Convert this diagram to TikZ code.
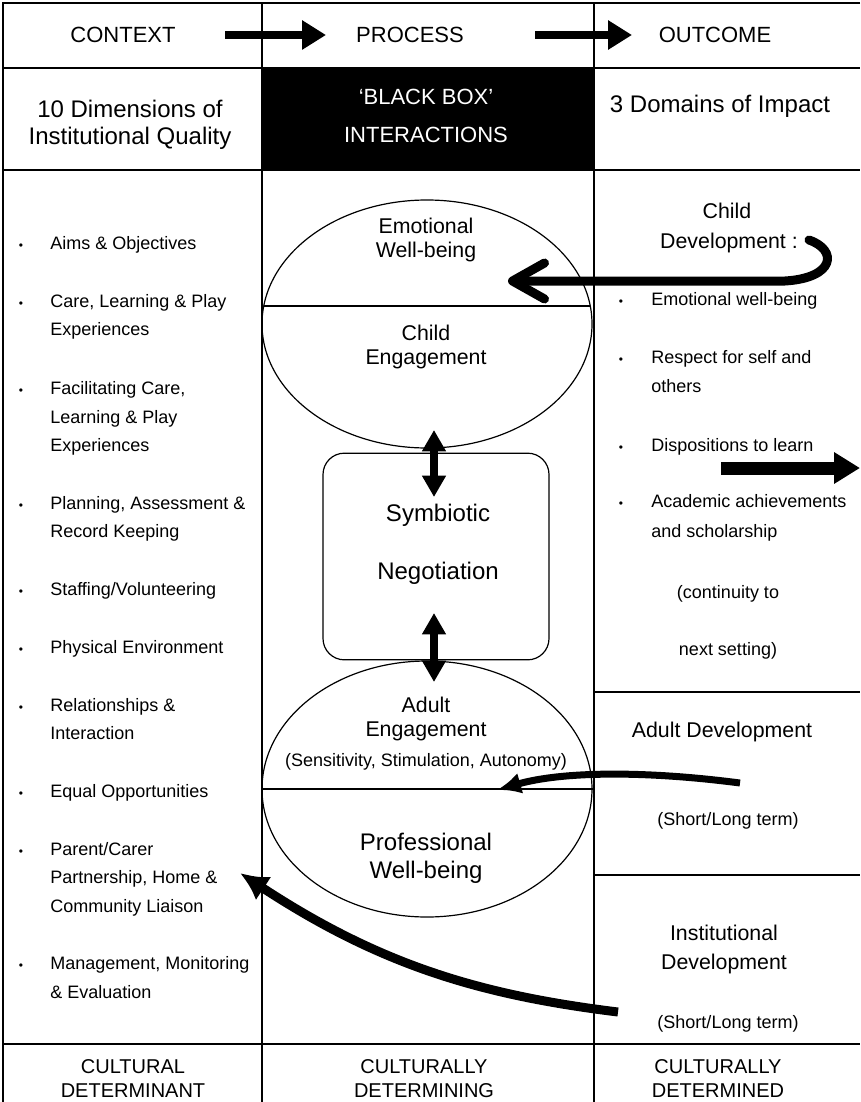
\documentclass[tikz,border=0pt]{standalone}
\usepackage{fontspec}
\setmainfont{Liberation Sans}
\usetikzlibrary{arrows.meta,shapes.geometric}
\begin{document}
\begin{tikzpicture}[x=0.75pt,y=-0.75pt,
 frameline/.style={line width=1.6pt},
 shapeline/.style={line width=0.9pt},
 hdr/.style={font=\fontsize{16.5}{20}\selectfont,anchor=base,inner sep=0pt},
 rowtwo/.style={font=\fontsize{18}{22}\selectfont,anchor=base,inner sep=0pt},
 lbl/.style={font=\fontsize{16}{20}\selectfont,anchor=base,inner sep=0pt},
 lblbig/.style={font=\fontsize{18}{22}\selectfont,anchor=base,inner sep=0pt},
 itm/.style={font=\fontsize{13.5}{16}\selectfont,anchor=base west,inner sep=0pt},
 note/.style={font=\fontsize{13.5}{16}\selectfont,anchor=base,inner sep=0pt},
 bul/.style={font=\fontsize{9}{10}\selectfont,anchor=base,inner sep=0pt},
 foot/.style={font=\fontsize{15}{18}\selectfont,anchor=base,inner sep=0pt},
 headarrow/.style={line width=6pt,-{Triangle[length=18pt,width=21pt]}},
 duoarrow/.style={line width=6pt,{Triangle[length=16pt,width=17pt]}-{Triangle[length=16pt,width=17pt]}},
 outarrow/.style={line width=9.75pt,-{Triangle[length=19.5pt,width=22.5pt]}},
 hookarrow/.style={line width=6.75pt,line cap=round,-{Straight Barb[length=24pt,width=27pt,round]}},
 curvearrow/.style={line width=5.25pt,-{Latex[length=18pt,width=16pt]}},
 longarrow/.style={line width=6.75pt,-{Latex[length=21pt,width=21pt]}},
]
\useasboundingbox (0,0) rectangle (860,1102);
\fill[white] (0,0) rectangle (860,1102);

% black box
\fill[black] (262,68) rectangle (594,170);

% frame
\draw[frameline] (860,3) -- (3,3) -- (3,1102);
\draw[frameline] (262,3) -- (262,1102);
\draw[frameline] (594,3) -- (594,1102);
\draw[frameline] (3,68) -- (860,68);
\draw[frameline] (3,170) -- (860,170);
\draw[frameline] (594,692) -- (860,692);
\draw[frameline] (594,875) -- (860,875);
\draw[frameline] (3,1044) -- (860,1044);

% header
\node[hdr] (ctx) at (123,43) {CONTEXT};
\node[hdr] (proc) at (410,43) {PROCESS};
\node[hdr] (outc) at (715,43) {OUTCOME};
\coordinate (h1s) at (225,35); \coordinate (h1e) at (326,35);
\coordinate (h2s) at (535,35); \coordinate (h2e) at (632,35);
\draw[headarrow] (h1s) -- (h1e);
\draw[headarrow] (h2s) -- (h2e);

% row two
\node[rowtwo] (dimA) at (130,118) {10 Dimensions of};
\node[rowtwo] (dimB) at (130,145) {Institutional Quality};
\node[hdr,text=white] (bbA) at (426,105) {‘BLACK BOX’};
\node[hdr,text=white] (bbB) at (426,143) {INTERACTIONS};
\node[rowtwo] (dom) at (720,113) {3 Domains of Impact};

% left list
\node[bul] at (21,249) {•}; \node[itm] (l1) at (50,249) {Aims \& Objectives};
\node[bul] at (21,307) {•}; \node[itm] (l2a) at (50,307) {Care, Learning \& Play};
\node[itm] (l2b) at (50,335) {Experiences};
\node[bul] at (21,394) {•}; \node[itm] (l3a) at (50,394) {Facilitating Care,};
\node[itm] (l3b) at (50,423) {Learning \& Play};
\node[itm] (l3c) at (50,451) {Experiences};
\node[bul] at (21,509) {•}; \node[itm] (l4a) at (50,509) {Planning, Assessment \&};
\node[itm] (l4b) at (50,537) {Record Keeping};
\node[bul] at (21,595) {•}; \node[itm] (l5) at (50,595) {Staffing/Volunteering};
\node[bul] at (21,653) {•}; \node[itm] (l6) at (50,653) {Physical Environment};
\node[bul] at (21,711) {•}; \node[itm] (l7a) at (50,711) {Relationships \&};
\node[itm] (l7b) at (50,739) {Interaction};
\node[bul] at (21,797) {•}; \node[itm] (l8) at (50,797) {Equal Opportunities};
\node[bul] at (21,855) {•}; \node[itm] (l9a) at (50,855) {Parent/Carer};
\node[itm] (l9b) at (50,883) {Partnership, Home \&};
\node[itm] (l9c) at (50,912) {Community Liaison};
\node[bul] at (21,969) {•}; \node[itm] (l10a) at (50,969) {Management, Monitoring};
\node[itm] (l10b) at (50,998) {\& Evaluation};

% middle column shapes
\node[ellipse,draw,shapeline,minimum width=247.5pt,minimum height=186pt,inner sep=0pt] (ue) at (427,324) {};
\draw[line width=1.2pt] (264,306) -- (590,306);
\node[lbl] (ewA) at (426,233) {Emotional};
\node[lbl] (ewB) at (426,257) {Well-being};
\node[lbl] (ceA) at (426,340) {Child};
\node[lbl] (ceB) at (426,364) {Engagement};

\node[draw,shapeline,rounded corners=16pt,minimum width=169.5pt,minimum height=155pt,inner sep=0pt] (sym) at (436,556.5) {};
\node[lblbig] (symA) at (438,521) {Symbiotic};
\node[lblbig] (symB) at (438,579) {Negotiation};

\node[ellipse,draw,shapeline,minimum width=247.5pt,minimum height=192pt,inner sep=0pt] (le) at (427,789) {};
\draw[line width=1.2pt] (le.west) -- (le.east);
\node[lbl] (aeA) at (426,712) {Adult};
\node[lbl] (aeB) at (426,736) {Engagement};
\node[note] (aeC) at (426,766) {(Sensitivity, Stimulation, Autonomy)};
\node[lblbig] (pwA) at (426,850) {Professional};
\node[lblbig] (pwB) at (426,878) {Well-being};

\coordinate (d1a) at (434,430); \coordinate (d1b) at (434,497);
\coordinate (d2a) at (434,613); \coordinate (d2b) at (434,682);
\draw[duoarrow] (d1a) -- (d1b);
\draw[duoarrow] (d2a) -- (d2b);

% right column
\node[lbl] (cdA) at (727,218) {Child};
\node[lbl] (cdB) at (729,248) {Development :};
\node[bul] at (621,305) {•}; \node[itm] (r1) at (651,305) {Emotional well-being};
\node[bul] at (621,363) {•}; \node[itm] (r2a) at (651,363) {Respect for self and};
\node[itm] (r2b) at (651,392) {others};
\node[bul] at (621,451) {•}; \node[itm] (r3) at (651,451) {Dispositions to learn};
\node[bul] at (621,507) {•}; \node[itm] (r4a) at (651,507) {Academic achievements};
\node[itm] (r4b) at (651,537) {and scholarship};
\node[note] (cont) at (728,598) {(continuity to};
\node[note] (next) at (728,655) {next setting)};

\node[lbl] (ad) at (722,737) {Adult Development};
\node[note] (adt) at (728,825) {(Short/Long term)};
\node[lbl] (idA) at (724,940) {Institutional};
\node[lbl] (idB) at (724,969) {Development};
\node[note] (idt) at (728,1028) {(Short/Long term)};

% bottom row
\node[foot] (fA1) at (133,1073) {CULTURAL};
\node[foot] (fA2) at (133,1097) {DETERMINANT};
\node[foot] (fB1) at (424,1073) {CULTURALLY};
\node[foot] (fB2) at (424,1097) {DETERMINING};
\node[foot] (fC1) at (718,1073) {CULTURALLY};
\node[foot] (fC2) at (718,1097) {DETERMINED};

% arrows in body
\coordinate (hs) at (809,240);
\coordinate (ht) at (508,281);
\draw[hookarrow] (hs) .. controls (838,250) and (835,278) .. (785,281) -- (ht);

\coordinate (os) at (721,468); \coordinate (oe) at (860,468);
\draw[outarrow] (os) -- (oe);

\coordinate (as) at (740,783); \coordinate (ae) at (497,790);
\draw[curvearrow] (as) .. controls (640,770) and (560,772) .. (ae);

\coordinate (is) at (618,1012); \coordinate (ie) at (240,873);
\draw[longarrow] (is) .. controls (480,995) and (380,965) .. (ie);
\end{tikzpicture}
\end{document}
